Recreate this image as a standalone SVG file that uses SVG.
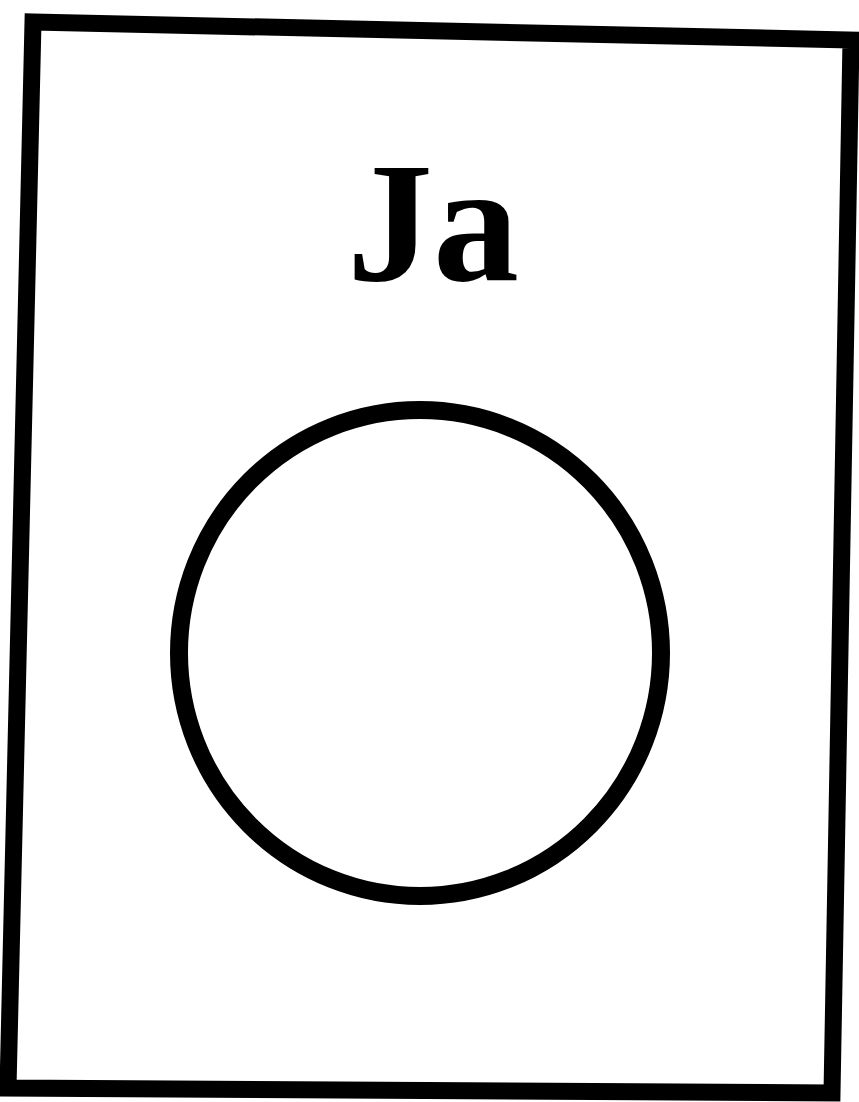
<svg xmlns="http://www.w3.org/2000/svg" width="859" height="1102" viewBox="0 0 859 1102">
<style>
.ink{fill:none;stroke:#000;stroke-linejoin:miter}
.lbl{font-family:"Liberation Serif","DejaVu Serif",serif;font-weight:bold;fill:#000}
</style>
<rect width="859" height="1102" fill="#fff"/>
<g id="frame">
<polygon class="ink" stroke-width="17" points="33,22 851,40 832,1093 8,1088"/>
</g>
<g id="label">
<text class="lbl" x="433" y="280" font-size="172" text-anchor="middle">Ja</text>
</g>
<g id="circle">
<ellipse class="ink" stroke-width="18" cx="420" cy="653" rx="241" ry="243"/>
</g>
<g id="connectors"></g>
</svg>
